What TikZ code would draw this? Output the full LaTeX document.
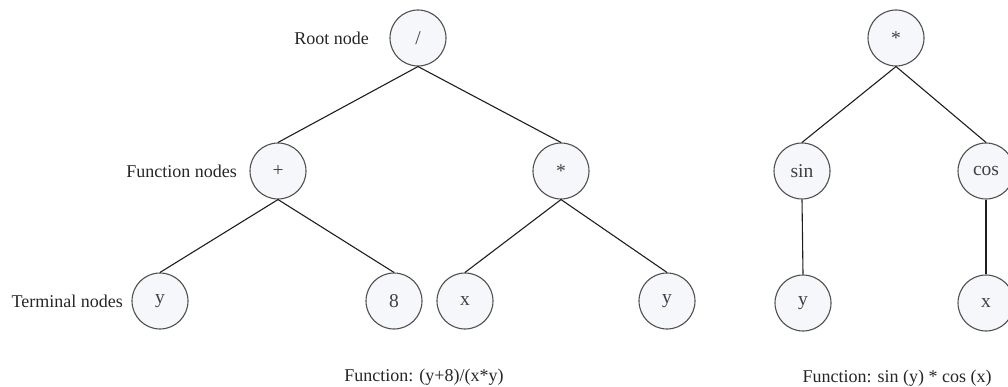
\documentclass[tikz,border=0pt]{standalone}
\usepackage{fontspec}
\setmainfont{Liberation Serif}
\definecolor{nodefill}{RGB}{246,247,250}
\definecolor{nodeline}{RGB}{80,80,80}
\definecolor{edgecol}{RGB}{30,30,30}
\begin{document}
\begin{tikzpicture}[x=1pt,y=-1pt,
  tn/.style={circle, draw=nodeline, line width=1.1pt, fill=nodefill, minimum size=56pt, inner sep=0pt, font=\fontsize{19.5}{22}\selectfont, text=black!75},
  lbl/.style={font=\fontsize{18}{21}\selectfont, text=black!85, inner sep=0pt},
  edge/.style={draw=edgecol, line width=1.1pt}]
\useasboundingbox (0,0) rectangle (1008,387);
% left tree
\node[tn] (root) at (418,38) {/};
\node[tn] (plus) at (278,171) {+};
\node[tn] (mul) at (561,171) {*};
\node[tn] (ly) at (160,301) {y};
\node[tn] (l8) at (394,301) {8};
\node[tn] (lx) at (465,301) {x};
\node[tn] (ly2) at (667,301) {y};
\draw[edge] (root.south) -- (plus.north);
\draw[edge] (root.south) -- (mul.north);
\draw[edge] (plus.south) -- (ly.north);
\draw[edge] (plus.south) -- (l8.north);
\draw[edge] (mul.south) -- (lx.north);
\draw[edge] (mul.south) -- (ly2.north);
% labels
\node[lbl, anchor=east] (rootlbl) at (369,38) {Root node};
\node[lbl, anchor=east] (funclbl) at (237,171) {Function nodes};
\node[lbl, anchor=east] (termlbl) at (123,301) {Terminal nodes};
\node[lbl] (cap1) at (424,377) {Function: (y+8)/(x*y)};
% right tree
\node[tn] (rmul) at (896,38) {*};
\node[tn] (sin) at (802,171) {sin};
\node[tn] (cos) at (986,171) {cos};
\node[tn] (ry) at (803,303) {y};
\node[tn] (rx) at (986,303) {x};
\draw[edge] (rmul.south) -- (sin.north);
\draw[edge] (rmul.south) -- (cos.north);
\draw[edge] (sin.south) -- (ry.north);
\draw[edge] (cos.south) -- (rx.north);
\node[lbl] (cap2) at (897,378) {Function: sin (y) * cos (x)};
\end{tikzpicture}
\end{document}
